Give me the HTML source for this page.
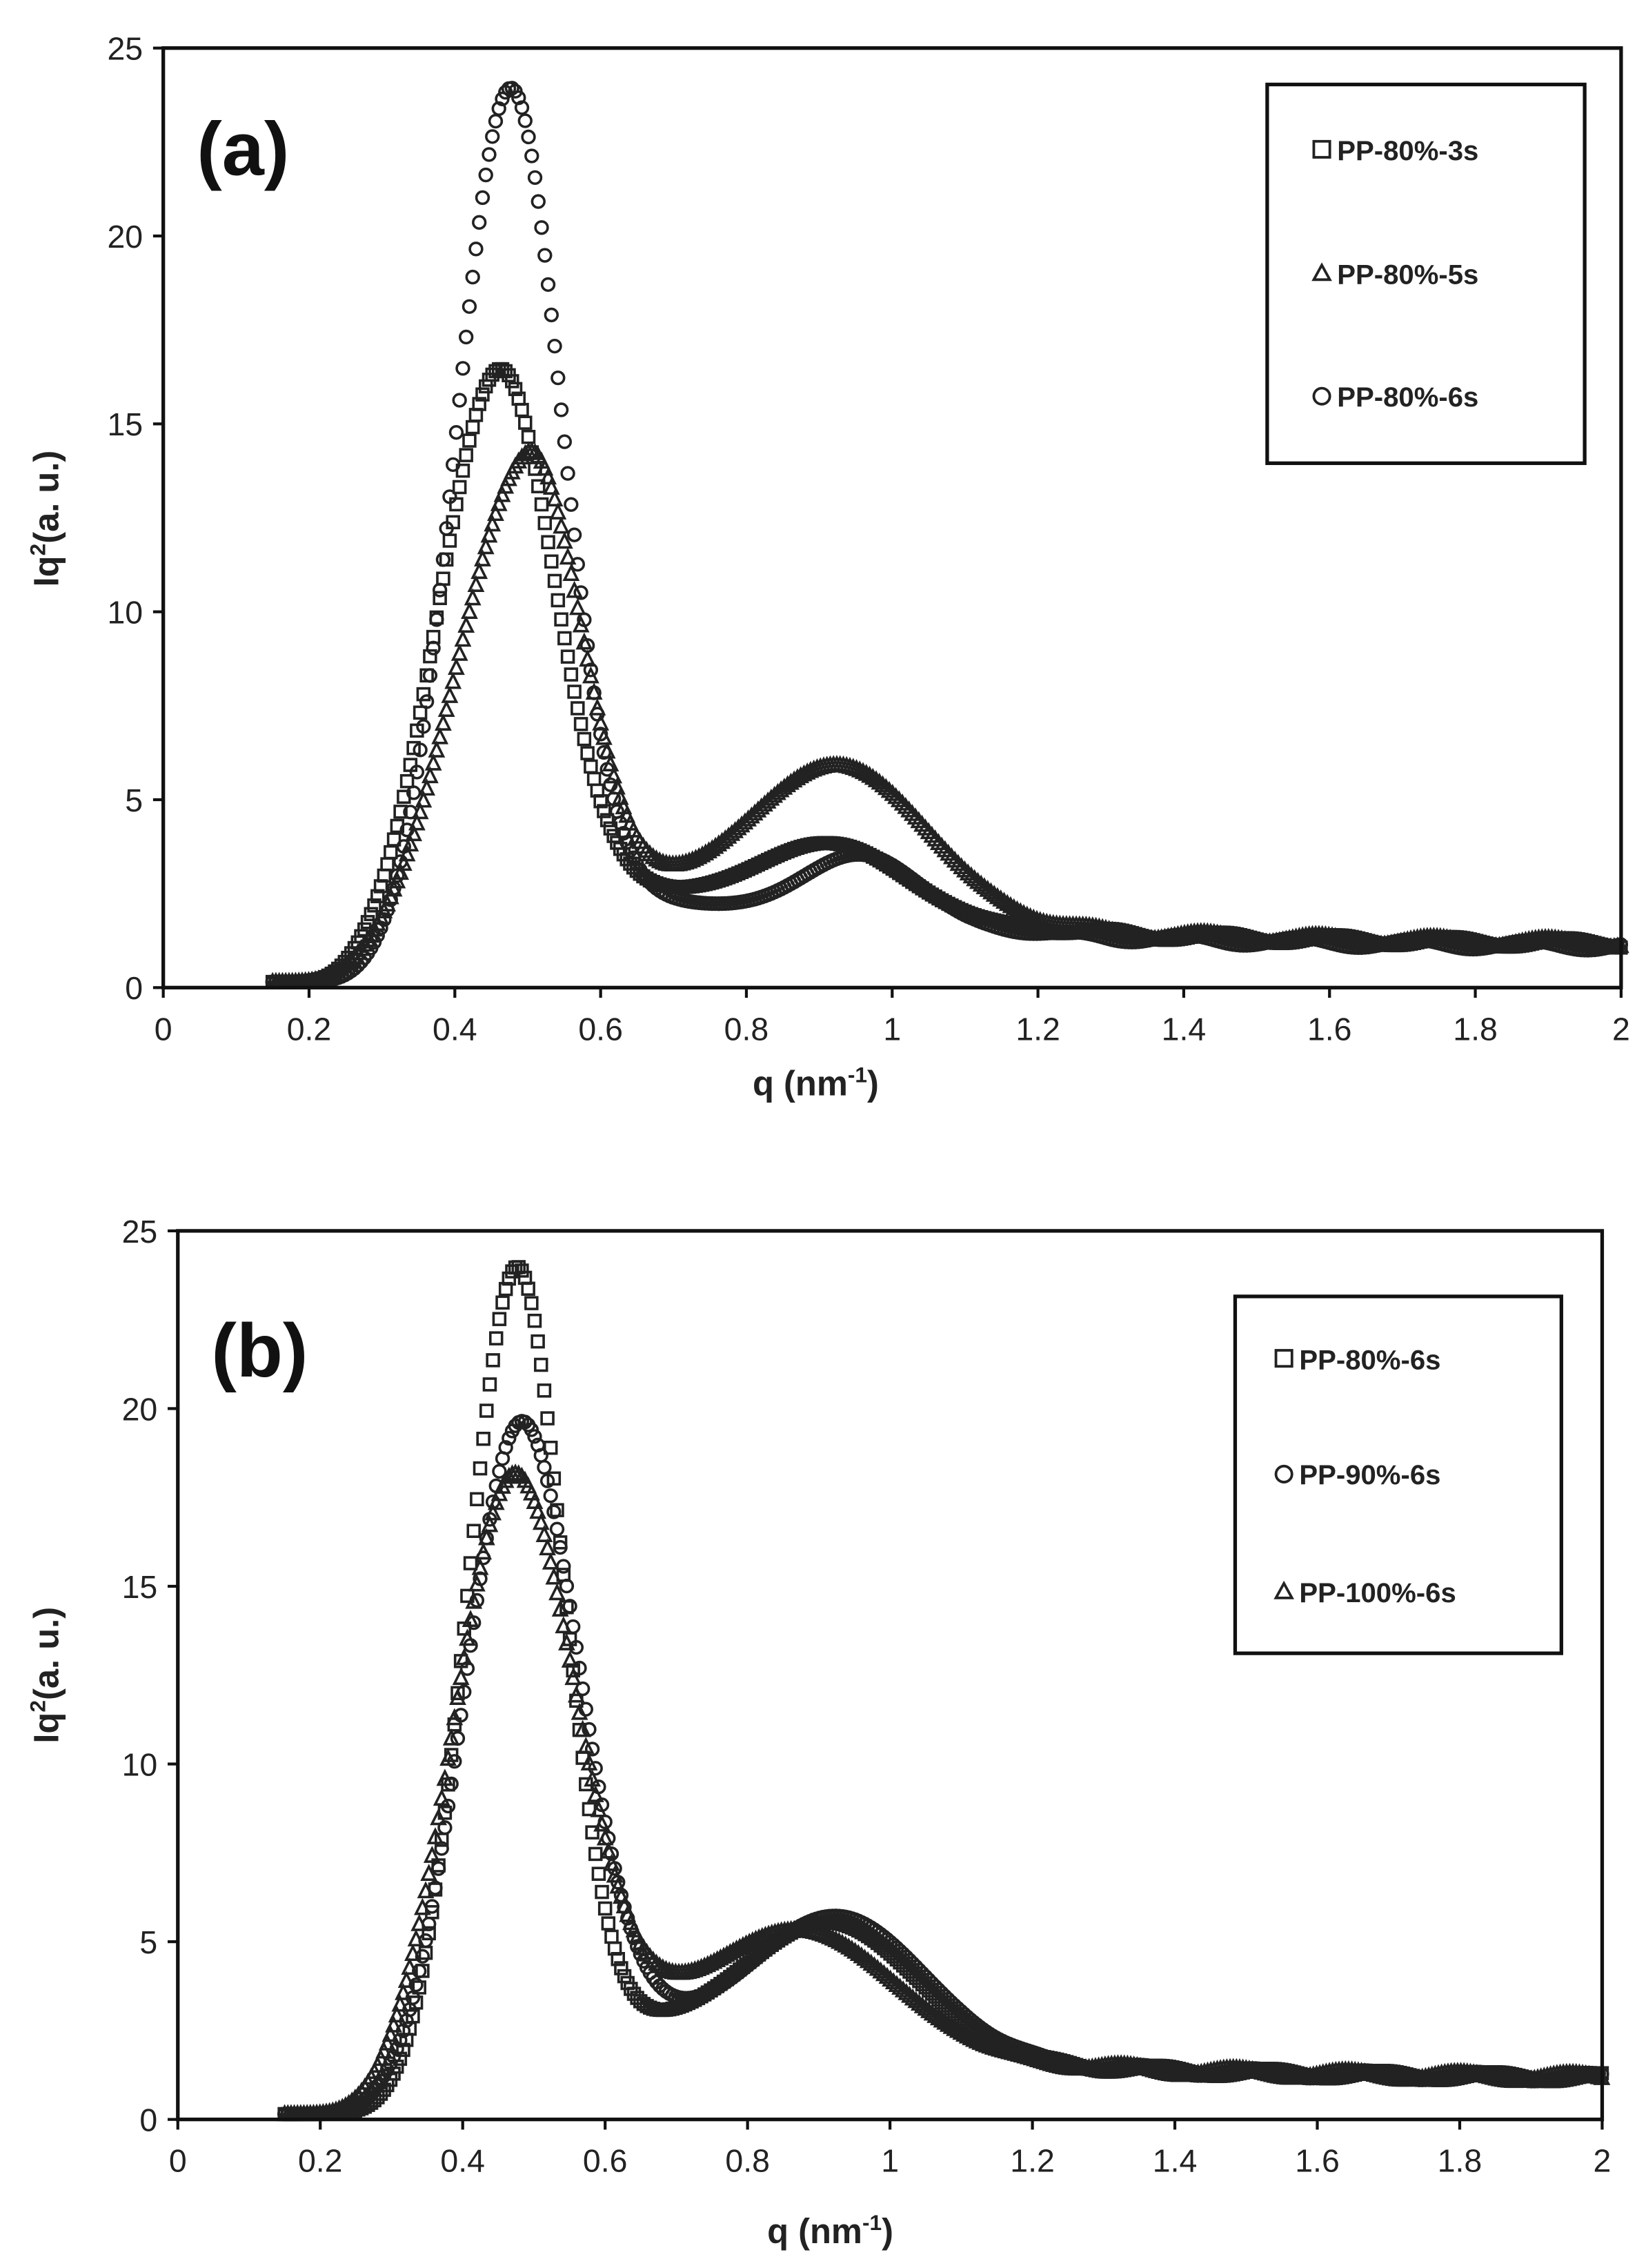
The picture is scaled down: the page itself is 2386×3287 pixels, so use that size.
<!DOCTYPE html>
<html><head><meta charset="utf-8"><style>
html,body{margin:0;padding:0;background:#fff}
svg{display:block}
text{font-family:"Liberation Sans",Arial,sans-serif;fill:#222}
</style></head><body>
<svg id="s" width="2386" height="3287" viewBox="0 0 1130 1557" xmlns="http://www.w3.org/2000/svg">
<rect width="1130" height="1557" fill="#fff"/>
<g id="g"></g>
<!-- panel a -->
<rect x="112" y="33" width="1001" height="645" fill="none" stroke="#111" stroke-width="2.5"/>
<text x="135" y="120" font-size="52" font-weight="bold" style="fill:#111">(a)</text>
<text x="560" y="752" font-size="24" font-weight="bold" text-anchor="middle">q (nm<tspan dy="-9" font-size="15">-1</tspan><tspan dy="9">)</tspan></text>
<text transform="translate(40,356) rotate(-90)" font-size="24" font-weight="bold" text-anchor="middle">Iq<tspan dy="-9" font-size="15">2</tspan><tspan dy="9">(a. u.)</tspan></text>
<rect x="870" y="58" width="218" height="260" fill="#fff" stroke="#111" stroke-width="2.5"/>
<rect x="902" y="97" width="11" height="11" fill="none" stroke="#222" stroke-width="1.8"/>
<text x="918" y="110" font-size="19" font-weight="bold">PP-80%-3s</text>
<polygon points="907.5,182 902,192 913,192" fill="none" stroke="#222" stroke-width="1.8"/>
<text x="918" y="195" font-size="19" font-weight="bold">PP-80%-5s</text>
<circle cx="907.5" cy="272" r="5.5" fill="none" stroke="#222" stroke-width="1.8"/>
<text x="918" y="279" font-size="19" font-weight="bold">PP-80%-6s</text>
<!-- panel b -->
<rect x="122" y="845" width="978" height="610" fill="none" stroke="#111" stroke-width="2.5"/>
<text x="145" y="945" font-size="52" font-weight="bold" style="fill:#111">(b)</text>
<text x="570" y="1540" font-size="24" font-weight="bold" text-anchor="middle">q (nm<tspan dy="-9" font-size="15">-1</tspan><tspan dy="9">)</tspan></text>
<text transform="translate(40,1150) rotate(-90)" font-size="24" font-weight="bold" text-anchor="middle">Iq<tspan dy="-9" font-size="15">2</tspan><tspan dy="9">(a. u.)</tspan></text>
<rect x="848" y="890" width="224" height="245" fill="#fff" stroke="#111" stroke-width="2.5"/>
<rect x="876" y="927" width="11" height="11" fill="none" stroke="#222" stroke-width="1.8"/>
<text x="892" y="940" font-size="19" font-weight="bold">PP-80%-6s</text>
<circle cx="881.5" cy="1012" r="5.5" fill="none" stroke="#222" stroke-width="1.8"/>
<text x="892" y="1019" font-size="19" font-weight="bold">PP-90%-6s</text>
<polygon points="881.5,1087 876,1097 887,1097" fill="none" stroke="#222" stroke-width="1.8"/>
<text x="892" y="1100" font-size="19" font-weight="bold">PP-100%-6s</text>
</svg>
<script>
(function(){
var NS="http://www.w3.org/2000/svg",g=document.getElementById('g');
function el(n,a,p){var e=document.createElementNS(NS,n);for(var k in a)e.setAttribute(k,a[k]);(p||g).appendChild(e);return e;}
var P=[{L:112,R:1113,T:33,B:678},{L:122,R:1100,T:845,B:1455}];
P.forEach(function(p){
 for(var i=0;i<=5;i++){var y=p.B-(p.B-p.T)*i/5;
  el('line',{x1:p.L-7,x2:p.L,y1:y,y2:y,stroke:'#111','stroke-width':2});
  var t=el('text',{x:p.L-14,y:y+8,'font-size':22,'text-anchor':'end'});t.textContent=i*5;}
 for(var i=0;i<=10;i++){var x=p.L+(p.R-p.L)*i/10;
  el('line',{x1:x,x2:x,y1:p.B,y2:p.B+7,stroke:'#111','stroke-width':2});
  var v=i/5;var t=el('text',{x:x,y:p.B+36,'font-size':22,'text-anchor':'middle'});t.textContent=(i%5==0)?String(v):v.toFixed(1);}
});
function f(q,A,q0,sl,sr,B,qb,sb,bg){
 var s=q<q0?sl:sr;var v=A*Math.exp(-Math.pow(q-q0,2)/(2*s*s));
 v+=B*Math.exp(-Math.pow(q-qb,2)/(2*sb*sb));
 var bgv=bg*(1/(1+Math.exp(-(q-0.55)/0.05)))*(0.7+1.0*Math.exp(-(q-0.7)/0.4));
 v+=bgv;v*=1/(1+Math.exp(-(q-0.23)/0.02));
 return v+0.15;
}
function mark(type,x,y){
 var st={fill:'none',stroke:'#222','stroke-width':1.7};
 if(type=='c'){st.cx=x;st.cy=y;st.r=4.2;el('circle',st);}
 else if(type=='s'){st.x=x-4;st.y=y-4;st.width=8;st.height=8;el('rect',st);}
 else{st.points=(x)+','+(y-5)+' '+(x-4.5)+','+(y+4)+' '+(x+4.5)+','+(y+4);el('polygon',st);}
}
var series=[
 {p:0,t:'s',a:[15.8,0.46,0.085,0.075,1.9,0.92,0.1,1.4]},
 {p:0,t:'t',a:[13.2,0.5,0.1,0.07,4.0,0.93,0.12,1.4]},
 {p:0,t:'c',a:[23.2,0.475,0.075,0.07,1.8,0.96,0.08,1.3]},
 {p:1,t:'s',a:[23.2,0.475,0.07,0.065,3.6,0.92,0.12,1.4]},
 {p:1,t:'c',a:[18.8,0.48,0.08,0.08,3.8,0.93,0.12,1.4]},
 {p:1,t:'t',a:[17.4,0.47,0.085,0.085,3.3,0.88,0.13,1.4]}
];
series.forEach(function(S,k){var p=P[S.p];
 for(var q=0.15;q<=2.0;q+=0.0045){
  var a=S.a;var v=f(q,a[0],a[1],a[2],a[3],a[4],a[5],a[6],a[7]);
  if(q>1.1)v+=0.12*Math.sin(q*40+k)*Math.min(1,(q-1.1)*5);
  var x=p.L+(p.R-p.L)*q/2,y=p.B-(p.B-p.T)*v/25;
  mark(S.t,x,y);
 }
});
})();
</script>
</body></html>
